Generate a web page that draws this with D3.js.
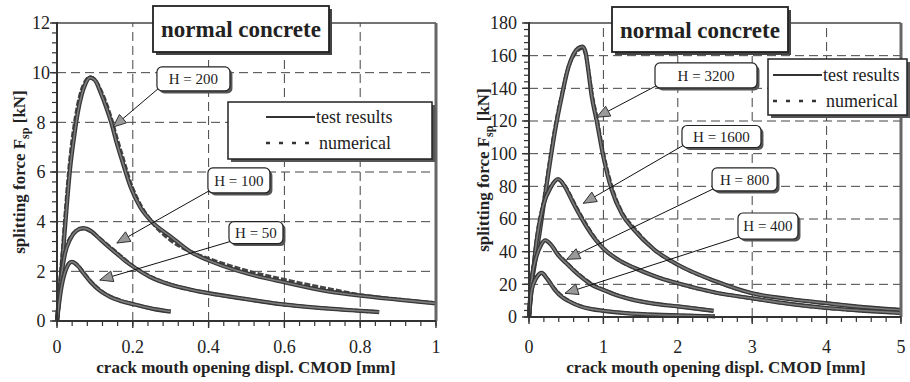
<!DOCTYPE html>
<html><head><meta charset="utf-8">
<script src="https://cdn.jsdelivr.net/npm/d3@7"></script>
<style>
body{margin:0;background:#fff}
svg{display:block}
</style>
</head><body>
<svg id="c" width="910" height="382" font-family="'Liberation Serif', 'Times New Roman', Times, serif"></svg>
<script>
// ---------------- DATA ----------------
const chartTitle = "normal concrete";
const xAxisTitle = "crack mouth opening displ. CMOD [mm]";
const legendLabels = ["test results", "numerical"];

const leftXTicks = [0, 0.2, 0.4, 0.6, 0.8, 1];
const leftXTickLabels = ["0", "0.2", "0.4", "0.6", "0.8", "1"];
const leftYTicks = [0, 2, 4, 6, 8, 10, 12];
const rightXTicks = [0, 1, 2, 3, 4, 5];
const rightXTickLabels = ["0", "1", "2", "3", "4", "5"];
const rightYTicks = [0, 20, 40, 60, 80, 100, 120, 140, 160, 180];

// left panel: [CMOD mm, F kN]
const L_H200_test = [[0,0],[0.006,1.0],[0.015,2.6],[0.024,4.3],[0.035,6.2],[0.045,7.4],[0.055,8.4],[0.065,9.1],[0.075,9.55],[0.087,9.8],[0.1,9.7],[0.115,9.2],[0.13,8.6],[0.144,7.95],[0.157,7.2],[0.171,6.5],[0.193,5.45],[0.219,4.6],[0.25,4.0],[0.3,3.4],[0.351,2.8],[0.42,2.32],[0.5,1.92],[0.6,1.56],[0.72,1.18],[0.8,1.02],[0.9,0.86],[1.0,0.71]];
const L_H200_num  = [[0,0],[0.006,1.2],[0.015,2.9],[0.024,4.7],[0.035,6.6],[0.045,7.8],[0.055,8.7],[0.065,9.3],[0.075,9.65],[0.087,9.82],[0.1,9.72],[0.115,9.3],[0.13,8.75],[0.144,8.1],[0.157,7.4],[0.171,6.7],[0.193,5.6],[0.219,4.7],[0.25,4.0],[0.3,3.25],[0.351,2.8],[0.42,2.4],[0.5,2.02],[0.6,1.66],[0.72,1.28],[0.8,1.05],[0.9,0.87],[1.0,0.72]];
const L_H100_test = [[0,0],[0.008,1.35],[0.021,2.7],[0.035,3.3],[0.05,3.62],[0.069,3.74],[0.09,3.62],[0.113,3.3],[0.135,3.0],[0.157,2.72],[0.18,2.42],[0.2,2.2],[0.245,1.78],[0.3,1.46],[0.35,1.27],[0.4,1.12],[0.5,0.88],[0.59,0.68],[0.7,0.52],[0.8,0.41],[0.85,0.36]];
const L_H100_num  = [[0,0],[0.008,1.45],[0.021,2.8],[0.035,3.35],[0.05,3.62],[0.069,3.72],[0.09,3.6],[0.113,3.32],[0.135,3.04],[0.157,2.76],[0.18,2.46],[0.2,2.22],[0.245,1.8],[0.3,1.47],[0.35,1.27],[0.4,1.12],[0.5,0.88],[0.59,0.68],[0.7,0.52],[0.8,0.41],[0.85,0.36]];
const L_H50_test  = [[0,0],[0.01,1.2],[0.022,2.0],[0.039,2.38],[0.055,2.22],[0.07,1.92],[0.09,1.55],[0.113,1.22],[0.14,0.97],[0.17,0.8],[0.2,0.68],[0.25,0.5],[0.3,0.38]];
const L_H50_num   = [[0,0],[0.01,1.3],[0.022,2.08],[0.039,2.38],[0.055,2.24],[0.07,1.95],[0.09,1.58],[0.113,1.25],[0.14,0.99],[0.17,0.81],[0.2,0.68],[0.25,0.5],[0.3,0.38]];

// right panel: [CMOD mm, F kN]
const R_H3200_test = [[0,0],[0.013,10],[0.08,33],[0.148,53],[0.215,74],[0.28,94],[0.35,114],[0.44,135],[0.53,153],[0.6,161],[0.66,164.5],[0.72,165.5],[0.76,162],[0.8,150],[0.84,136],[0.91,120],[1.0,98],[1.11,78],[1.25,63],[1.4,54],[1.69,41],[2.0,32],[2.5,22],[3.0,14.5],[3.5,11],[4.0,8.4],[4.5,6],[5.0,4.3]];
const R_H3200_num  = [[0,0],[0.013,11],[0.08,35],[0.148,55],[0.215,76],[0.28,96],[0.35,116],[0.44,136],[0.53,153],[0.6,160],[0.66,163.5],[0.72,164.5],[0.76,161],[0.8,151],[0.84,138],[0.91,122],[1.0,100],[1.11,80],[1.25,64],[1.4,55],[1.69,41],[2.0,32],[2.5,22],[3.0,14.5],[3.5,11],[4.0,8.4],[4.5,6],[5.0,4.3]];
const R_H1600_test = [[0,0],[0.05,25],[0.1,46],[0.19,68],[0.3,80],[0.39,84.5],[0.48,80],[0.57,72],[0.65,65],[0.75,57],[0.9,47],[1.0,42],[1.2,35],[1.42,30],[1.69,25],[2.0,20.6],[2.5,15],[3.0,11.4],[3.5,8],[4.0,5.5],[4.5,3.8],[5.0,2.5]];
const R_H1600_num  = [[0,0],[0.05,26],[0.1,47],[0.19,69],[0.3,80.5],[0.39,84],[0.48,80.5],[0.57,73],[0.65,66],[0.75,58],[0.9,47.5],[1.0,42],[1.2,35],[1.42,30],[1.69,25],[2.0,20.6],[2.5,15],[3.0,11.4],[3.5,8],[4.0,5.5],[4.5,3.8],[5.0,2.5]];
const R_H800_test  = [[0,0],[0.035,22],[0.1,37],[0.16,44],[0.22,47],[0.3,44],[0.39,38],[0.5,33],[0.6,28.5],[0.7,24.5],[0.85,19.5],[1.0,16.5],[1.2,13],[1.4,10.5],[1.7,8],[2.0,6.5],[2.48,3.8]];
const R_H800_num   = [[0,0],[0.035,23],[0.1,38],[0.16,44.5],[0.22,46.5],[0.3,44],[0.39,38.5],[0.5,33.5],[0.6,29],[0.7,25],[0.85,20],[1.0,16.8],[1.2,13.2],[1.4,10.6],[1.7,8],[2.0,6.5],[2.48,3.8]];
const R_H400_test  = [[0,0],[0.036,16.5],[0.1,24],[0.17,27],[0.25,23],[0.35,16.5],[0.45,12],[0.53,9.8],[0.69,6.5],[0.84,4.8],[1.0,3.8],[1.3,2.4],[1.7,1.4],[2.0,1.0],[2.5,0.4]];
const R_H400_num   = [[0,0],[0.036,17],[0.1,24.5],[0.17,26.5],[0.25,23],[0.35,17],[0.45,12.5],[0.53,10],[0.69,6.7],[0.84,4.9],[1.0,3.8],[1.3,2.4],[1.7,1.4],[2.0,1.0],[2.5,0.4]];

// annotation labels: box centre and arrow tip in data units
const leftNotes = [
  {label:"H = 200", bx:0.360, by:9.75, w:73, h:24, tx:0.148, ty:7.81},
  {label:"H = 100", bx:0.480, by:5.66, w:62, h:25, tx:0.158, ty:3.14},
  {label:"H = 50",  bx:0.525, by:3.56, w:54, h:22, tx:0.113, ty:1.65}
];
const rightNotes = [
  {label:"H = 3200", bx:2.379, by:147.9, w:102, h:25, tx:0.91,  ty:122.3},
  {label:"H = 1600", bx:2.587, by:110.5, w:79,  h:22, tx:0.73,  ty:69.6},
  {label:"H = 800",  bx:2.897, by:84.2,  w:65,  h:23, tx:0.507, ty:35.3},
  {label:"H = 400",  bx:3.212, by:55.7,  w:60,  h:26, tx:0.484, ty:14.5}
];

// ---------------- LAYOUT ----------------
const panels = [
  {xDom:[0,1], yDom:[0,12], xr:[57,436], yr:[321,23],
   xTicks:leftXTicks, xLabels:leftXTickLabels, yTicks:leftYTicks,
   xMinor:0.04, yMinor:0.4, yLabX:41, yLabAnchor:"middle",
   series:[L_H200_num, L_H200_test, L_H100_num, L_H100_test, L_H50_num, L_H50_test],
   notes:leftNotes, titleBox:{cx:241, cy:29, w:176, h:46},
   legend:{x:228, y:102, w:204, h:57, lx:266, len:49, tx:316, y1:117, y2:143},
   xTitleX:246, yTitle:[19,172]},
  {xDom:[0,5], yDom:[0,180], xr:[529,901], yr:[317,23],
   xTicks:rightXTicks, xLabels:rightXTickLabels, yTicks:rightYTicks,
   xMinor:0.2, yMinor:4, yLabX:517, yLabAnchor:"end",
   series:[R_H3200_num, R_H3200_test, R_H1600_num, R_H1600_test, R_H800_num, R_H800_test, R_H400_num, R_H400_test],
   notes:rightNotes, titleBox:{cx:700, cy:29.5, w:176, h:45},
   legend:{x:768, y:59, w:139, h:56, lx:773, len:49, tx:823, y1:75, y2:101},
   xTitleX:716, yTitle:[483,170]}
];

const svg = d3.select("#c");
const FONT = "'Liberation Serif', 'Times New Roman', Times, serif";
const TXT = "#222";

panels.forEach(p => {
  const x = d3.scaleLinear().domain(p.xDom).range(p.xr);
  const y = d3.scaleLinear().domain(p.yDom).range(p.yr);
  const g = svg.append("g").attr("font-family", FONT);
  const [xmin, xmax] = p.xDom, [ymin, ymax] = p.yDom;
  const txt = (sel) => sel.attr("font-family", FONT).attr("fill", TXT);

  // grid
  g.selectAll(".hg").data(p.yTicks.filter(v => v > ymin && v < ymax)).enter().append("line")
    .attr("x1", x(xmin)).attr("x2", x(xmax)).attr("y1", d => y(d)).attr("y2", d => y(d))
    .attr("stroke", "#444").attr("stroke-width", 1).attr("stroke-dasharray", "9,5");
  g.selectAll(".vg").data(p.xTicks.filter(v => v > xmin && v < xmax)).enter().append("line")
    .attr("y1", y(ymin)).attr("y2", y(ymax)).attr("x1", d => x(d)).attr("x2", d => x(d))
    .attr("stroke", "#444").attr("stroke-width", 1).attr("stroke-dasharray", "9,5");

  // curves
  const line = d3.line().x(d => x(d[0])).y(d => y(d[1])).curve(d3.curveMonotoneX);
  p.series.forEach((s, i) => {
    if (i % 2 === 0) {
      g.append("path").attr("d", line(s)).attr("fill", "none")
        .attr("stroke", "#444").attr("stroke-width", 3.6).attr("stroke-dasharray", "6,2");
    } else {
      g.append("path").attr("d", line(s)).attr("fill", "none")
        .attr("stroke", "#383838").attr("stroke-width", 4.2).attr("stroke-linejoin", "round");
      g.append("path").attr("d", line(s)).attr("fill", "none")
        .attr("stroke", "#7c7c7c").attr("stroke-width", 1.6).attr("stroke-linejoin", "round");
    }
  });

  // frame
  g.append("line").attr("x1", x(xmin)).attr("x2", x(xmax)).attr("y1", y(ymax)).attr("y2", y(ymax))
    .attr("stroke", "#444").attr("stroke-width", 1.5);
  g.append("line").attr("x1", x(xmax)).attr("x2", x(xmax)).attr("y1", y(ymax)).attr("y2", y(ymin))
    .attr("stroke", "#666").attr("stroke-width", 3);
  g.append("line").attr("x1", x(xmin)).attr("x2", x(xmin)).attr("y1", y(ymax) - 1).attr("y2", y(ymin) + 1)
    .attr("stroke", "#333").attr("stroke-width", 2);
  g.append("line").attr("x1", x(xmin) - 1).attr("x2", x(xmax)).attr("y1", y(ymin)).attr("y2", y(ymin))
    .attr("stroke", "#333").attr("stroke-width", 2);

  // ticks
  const yMinorVals = d3.range(ymin, ymax + p.yMinor / 2, p.yMinor);
  g.selectAll(".ym").data(yMinorVals).enter().append("line")
    .attr("x1", x(xmin) - 5).attr("x2", x(xmin)).attr("y1", d => y(d)).attr("y2", d => y(d))
    .attr("stroke", "#333").attr("stroke-width", 1.2);
  g.selectAll(".yM").data(p.yTicks).enter().append("line")
    .attr("x1", x(xmin) - 7).attr("x2", x(xmin)).attr("y1", d => y(d)).attr("y2", d => y(d))
    .attr("stroke", "#333").attr("stroke-width", 1.4);
  const xMinorVals = d3.range(xmin, xmax + p.xMinor / 2, p.xMinor);
  g.selectAll(".xm").data(xMinorVals).enter().append("line")
    .attr("y1", y(ymin)).attr("y2", y(ymin) + 5).attr("x1", d => x(d)).attr("x2", d => x(d))
    .attr("stroke", "#333").attr("stroke-width", 1.2);
  g.selectAll(".xM").data(p.xTicks).enter().append("line")
    .attr("y1", y(ymin)).attr("y2", y(ymin) + 7).attr("x1", d => x(d)).attr("x2", d => x(d))
    .attr("stroke", "#333").attr("stroke-width", 1.4);

  // tick labels
  g.selectAll(".yl").data(p.yTicks).enter().append("text").call(txt)
    .attr("x", p.yLabX).attr("y", d => y(d)).attr("dy", "0.35em")
    .attr("text-anchor", p.yLabAnchor).attr("font-size", 18).text(d => d);
  g.selectAll(".xl").data(p.xTicks).enter().append("text").call(txt)
    .attr("x", d => x(d)).attr("y", 353)
    .attr("text-anchor", "middle").attr("font-size", 18).text((d, i) => p.xLabels[i]);

  // axis titles
  g.append("text").call(txt).attr("x", p.xTitleX).attr("y", 373).attr("text-anchor", "middle")
    .attr("font-size", 17).attr("font-weight", "bold").text(xAxisTitle);
  const yt = g.append("text").call(txt).attr("transform", `translate(${p.yTitle[0]},${p.yTitle[1]}) rotate(-90)`)
    .attr("text-anchor", "middle").attr("dy", "0.35em")
    .attr("font-size", 17).attr("font-weight", "bold");
  yt.append("tspan").text("splitting force F");
  yt.append("tspan").attr("font-size", 12).attr("dy", "4").text("sp");
  yt.append("tspan").attr("dy", "-4").text(" [kN]");

  // annotations
  p.notes.forEach(n => {
    const cx = x(n.bx), cy = y(n.by);
    const bx0 = cx - n.w / 2, by0 = cy - n.h / 2;
    const sx = bx0 + 1, sy = by0 + n.h - 2;
    const tx = x(n.tx), ty = y(n.ty);
    g.append("line").attr("x1", sx).attr("y1", sy).attr("x2", tx).attr("y2", ty)
      .attr("stroke", "#111").attr("stroke-width", 1);
    const ang = Math.atan2(ty - sy, tx - sx);
    const L = 13, W = 5.5;
    const bxp = tx - L * Math.cos(ang), byp = ty - L * Math.sin(ang);
    const pts = [[tx, ty],
      [bxp + W * Math.sin(ang), byp - W * Math.cos(ang)],
      [bxp - W * Math.sin(ang), byp + W * Math.cos(ang)]];
    g.append("polygon").attr("points", pts.map(q => q.join(",")).join(" "))
      .attr("fill", "#999").attr("stroke", "#333").attr("stroke-width", 1);
    g.append("rect").attr("x", bx0 + 2.5).attr("y", by0 + 2.5).attr("width", n.w).attr("height", n.h)
      .attr("rx", 5).attr("fill", "#555");
    g.append("rect").attr("x", bx0).attr("y", by0).attr("width", n.w).attr("height", n.h)
      .attr("rx", 5).attr("fill", "#fff").attr("stroke", "#222").attr("stroke-width", 1.2);
    g.append("text").call(txt).attr("x", cx).attr("y", cy).attr("dy", "0.35em").attr("text-anchor", "middle")
      .attr("font-size", 15).text(n.label);
  });

  // title box
  const tb = p.titleBox;
  g.append("rect").attr("x", tb.cx - tb.w / 2 + 3).attr("y", tb.cy - tb.h / 2 + 3)
    .attr("width", tb.w).attr("height", tb.h).attr("fill", "#444");
  g.append("rect").attr("x", tb.cx - tb.w / 2).attr("y", tb.cy - tb.h / 2)
    .attr("width", tb.w).attr("height", tb.h).attr("fill", "#fff").attr("stroke", "#222").attr("stroke-width", 1.8);
  g.append("text").call(txt).attr("x", tb.cx).attr("y", tb.cy).attr("dy", "0.36em").attr("text-anchor", "middle")
    .attr("font-size", 23).attr("font-weight", "bold").text(chartTitle);

  // legend
  const lg = p.legend;
  g.append("rect").attr("x", lg.x + 3).attr("y", lg.y + 3).attr("width", lg.w).attr("height", lg.h).attr("fill", "#555");
  g.append("rect").attr("x", lg.x).attr("y", lg.y).attr("width", lg.w).attr("height", lg.h)
    .attr("fill", "#fff").attr("stroke", "#222").attr("stroke-width", 1.5);
  g.append("line").attr("x1", lg.lx).attr("x2", lg.lx + lg.len).attr("y1", lg.y1).attr("y2", lg.y1)
    .attr("stroke", "#333").attr("stroke-width", 2);
  g.append("line").attr("x1", lg.lx).attr("x2", lg.lx + lg.len - 6).attr("y1", lg.y2).attr("y2", lg.y2)
    .attr("stroke", "#333").attr("stroke-width", 2.5).attr("stroke-dasharray", "4,9");
  g.append("text").call(txt).attr("x", lg.tx).attr("y", lg.y1).attr("dy", "0.33em").attr("font-size", 18).text(legendLabels[0]);
  g.append("text").call(txt).attr("x", lg.tx + 3).attr("y", lg.y2).attr("dy", "0.33em").attr("font-size", 18).text(legendLabels[1]);
});
</script>
</body></html>
